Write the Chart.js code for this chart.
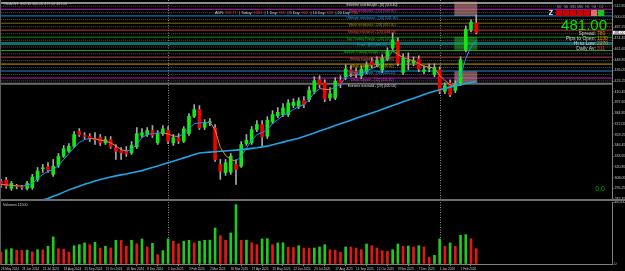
<!DOCTYPE html>
<html>
<head>
<meta charset="utf-8">
<script src="https://cdn.jsdelivr.net/npm/chart.js@4.4.1/dist/chart.umd.min.js"></script>
<style>
  html, body { margin: 0; padding: 0; background: #000; }
  #wrap { position: relative; width: 625px; height: 271px; background: #000; overflow: hidden; }
  #priceChart { position: absolute; left: 0; top: 0; }
  #volChart { position: absolute; left: 0; top: 201px; }
  .sep { position: absolute; left: 0; top: 199px; width: 625px; height: 2px; background: #6e6e6e; }
  .lborder { position: absolute; left: 0; top: 0; width: 1px; height: 265px; background: #5a5a5a; }
</style>
</head>
<body>
<div id="wrap">
  <canvas id="priceChart" width="625" height="199" style="width:625px;height:199px"></canvas>
  <div class="sep"></div>
  <canvas id="volChart" width="625" height="70" style="width:625px;height:70px"></canvas>
  <div class="lborder"></div>
</div>
<script>
// weekly bars, 26 May 2024 .. 22 Feb 2026
const opens = [303.4, 305.0, 295.1, 297.9, 296.5, 295.1, 295.9, 305.8, 318.5, 320.9,
  311.8, 322.5, 333.5, 339.5, 345.4, 362.9, 358.2, 357.3, 354.0, 356.1,
  349.5, 353.4, 343.5, 340.3, 339.5, 337.6, 344.7, 358.5, 359.4, 364.1,
  349.5, 360.2, 364.5, 349.5, 355.4, 351.4, 360.5, 381.1, 389.1, 368.0,
  373.6, 367.3, 323.7, 313.8, 314.5, 323.7, 321.6, 348.6, 349.5, 365.3,
  371.3, 357.3, 374.5, 382.0, 383.2, 383.2, 393.9, 393.0, 399.8, 401.0,
  410.9, 424.8, 420.9, 403.0, 403.0, 424.0, 428.0, 436.7, 434.7, 429.6,
  434.7, 446.6, 443.8, 436.7, 449.4, 462.5, 470.4, 433.5, 446.2, 444.7,
  449.4, 434.7, 438.4, 430.8, 436.7, 410.9, 420.9, 412.1, 420.9, 460.5,
  484.3, 492.3];
const highs = [305.8, 308.2, 303.4, 299.9, 298.7, 303.4, 311.8, 320.1, 323.7, 326.0,
  329.6, 336.7, 346.3, 348.6, 362.9, 366.5, 361.7, 360.5, 361.7, 359.4,
  357.0, 357.0, 347.5, 343.9, 345.1, 351.0, 367.7, 366.5, 367.7, 370.1,
  364.1, 370.1, 368.9, 359.4, 360.5, 368.9, 384.3, 395.1, 393.9, 377.2,
  378.4, 371.3, 329.6, 329.6, 336.7, 329.6, 351.0, 359.4, 368.9, 376.0,
  376.0, 380.8, 387.9, 391.5, 396.2, 401.0, 402.2, 403.4, 404.6, 416.5,
  428.4, 429.6, 424.8, 415.3, 427.2, 429.6, 442.7, 441.5, 439.1, 441.5,
  446.2, 451.0, 452.2, 454.6, 462.9, 480.7, 474.8, 455.7, 456.9, 452.2,
  453.4, 441.5, 443.8, 443.8, 440.3, 421.2, 424.8, 423.6, 452.2, 489.1,
  496.2, 502.2];
const lows = [296.3, 295.1, 292.7, 294.5, 293.9, 293.3, 293.9, 303.4, 314.1, 314.1,
  309.4, 320.1, 332.0, 337.9, 343.9, 357.0, 353.4, 351.0, 347.5, 346.3,
  347.5, 342.7, 329.6, 329.6, 333.2, 335.6, 342.7, 355.8, 357.0, 355.8,
  347.5, 358.2, 348.6, 346.3, 348.6, 349.8, 358.2, 379.6, 365.3, 365.3,
  370.1, 327.2, 305.8, 310.6, 311.8, 299.9, 320.1, 346.3, 347.5, 362.9,
  345.4, 354.6, 372.4, 379.6, 380.8, 380.8, 391.5, 390.3, 391.5, 398.6,
  408.1, 415.3, 398.6, 399.8, 401.0, 415.3, 424.8, 428.4, 427.2, 426.0,
  431.9, 439.1, 440.3, 433.1, 447.4, 460.5, 441.5, 430.8, 436.7, 441.5,
  434.3, 431.9, 434.3, 428.4, 408.1, 408.1, 404.6, 409.3, 417.7, 458.1,
  481.9, 479.5];
const closes = [298.7, 297.8, 301.0, 297.5, 296.3, 301.0, 308.5, 315.7, 318.9, 316.9,
  321.6, 333.5, 342.3, 345.4, 359.4, 359.0, 357.0, 354.2, 353.2, 349.5,
  353.4, 344.7, 339.5, 337.6, 336.7, 346.3, 360.5, 361.4, 364.1, 358.5,
  360.5, 366.1, 351.4, 355.4, 351.4, 366.1, 381.1, 389.1, 367.3, 373.3,
  374.5, 329.6, 315.7, 325.7, 333.5, 317.7, 347.5, 352.6, 365.3, 371.3,
  356.6, 376.4, 383.2, 385.9, 391.1, 397.1, 397.8, 399.8, 395.1, 412.1,
  423.6, 418.9, 401.8, 408.1, 422.8, 420.0, 437.5, 432.8, 431.9, 437.5,
  442.3, 442.7, 447.4, 450.6, 458.5, 472.4, 444.7, 450.6, 446.9, 447.4,
  437.5, 436.7, 439.1, 439.4, 410.9, 417.7, 406.9, 420.0, 448.6, 485.1,
  493.5, 481.0];
const fastMA = [299.9, 299.3, 298.7, 298.1, 297.8, 298.7, 301.0, 307.0, 311.8, 315.3,
  317.7, 322.5, 329.6, 336.7, 343.9, 349.8, 353.4, 354.6, 354.2, 352.8,
  351.6, 349.5, 345.7, 341.5, 339.5, 341.5, 347.5, 355.8, 359.4, 360.5,
  361.1, 361.7, 359.9, 357.6, 357.0, 360.5, 366.5, 372.4, 373.3, 373.5,
  374.2, 365.3, 343.9, 334.4, 329.6, 327.6, 333.2, 343.3, 352.2, 359.4,
  361.7, 365.3, 372.4, 377.2, 382.0, 385.5, 389.1, 392.7, 395.1, 401.0,
  409.3, 414.1, 413.5, 412.9, 416.0, 419.0, 428.0, 430.5, 430.0, 431.5,
  435.5, 438.0, 441.0, 444.5, 450.5, 459.5, 455.0, 451.5, 449.0, 447.5,
  444.0, 441.0, 440.0, 438.5, 430.0, 424.0, 418.5, 418.0, 430.0, 450.0,
  464.0, 472.0];
const slowMA = [264.2, 266.5, 268.9, 271.3, 273.7, 276.1, 277.8, 280.0, 281.5, 282.9,
  285.6, 287.9, 290.6, 293.3, 295.6, 297.7, 299.9, 301.9, 303.9, 305.8,
  307.2, 308.7, 310.0, 311.2, 312.3, 313.7, 315.0, 316.3, 318.2, 320.1,
  321.9, 323.8, 325.7, 327.6, 329.5, 331.5, 333.4, 335.4, 337.3, 337.9,
  338.4, 338.9, 339.4, 339.8, 340.3, 340.8, 341.3, 342.0, 342.8, 343.6,
  344.6, 345.5, 347.1, 348.6, 350.3, 351.9, 353.4, 354.9, 357.0, 359.1,
  361.3, 363.5, 365.7, 367.9, 370.1, 372.2, 374.3, 376.5, 378.7, 380.9,
  383.0, 385.2, 387.3, 389.6, 391.8, 394.0, 396.1, 398.4, 400.5, 402.7,
  404.9, 407.1, 409.2, 411.1, 412.9, 414.4, 416.0, 417.5, 418.9, 420.2,
  421.5, 422.8];
const volumes = [8800, 10700, 11500, 10300, 10200, 10400, 9200, 10700, 10600, 13300,
  20300, 11500, 11200, 8800, 13700, 14500, 15800, 14500, 16300, 12000,
  13300, 12000, 17800, 17700, 13300, 17800, 15200, 18800, 12800, 15500,
  7000, 10000, 18800, 17000, 15200, 17000, 17800, 15800, 17000, 17800,
  17900, 27000, 21200, 17800, 23300, 44500, 17800, 17900, 15800, 14500,
  18800, 19000, 14500, 15800, 15900, 12500, 12400, 13700, 12000, 11900,
  12000, 12800, 14500, 10700, 10300, 8800, 12800, 12700, 12000, 10700,
  15000, 13700, 12000, 10000, 9500, 10700, 15000, 13300, 13500, 12800,
  13700, 12800, 5000, 6500, 18800, 13300, 15800, 13300, 21500, 22000,
  19000, 11500];

const dateTickIdx = [0, 4, 8, 12, 16, 20, 24, 28, 32, 36, 40, 44, 48, 52, 56, 60, 64, 68, 72, 76, 80, 84, 88];
const dateTickText = ['26 May 2024', '23 Jun 2024', '21 Jul 2024', '18 Aug 2024', '15 Sep 2024', '13 Oct 2024',
  '10 Nov 2024', '8 Dec 2024', '5 Jan 2025', '2 Feb 2025', '2 Mar 2025', '30 Mar 2025', '27 Apr 2025',
  '25 May 2025', '22 Jun 2025', '20 Jul 2025', '17 Aug 2025', '14 Sep 2025', '12 Oct 2025', '9 Nov 2025',
  '7 Dec 2025', '4 Jan 2026', '1 Feb 2026'];
const yearStartIdx = [32, 84];
const priceTicks = [512.85, 500.05, 487.25, 474.45, 461.65, 448.85, 436.05, 423.25, 410.45, 397.65,
  384.85, 372.05, 359.25, 346.45, 333.65, 320.85, 308.05, 295.25, 282.45];

// support / resistance levels
const levelPrices = [516.4, 508.9, 501.0, 492.3, 484.0, 475.6, 468.2, 459.7, 451.8, 443.5, 435.2, 426.8, 420.0];
const levelNames = ['Extreme overbought', 'Weak resistance', 'Ultimate resistance', 'Weak resistance', 'Strong resistance',
  'Top Trading Range', 'Pivot', 'Bottom Trading Range', 'Strong support', 'Weak support', 'Ultimate support',
  'Weak support', 'Extreme oversold'];
const levelTouches = [8, 15, 16, 28, 26, 18, 46, 45, 22, 13, 18, 12, 29];
const levelColors = ['#8c8c8c', '#b41eb4', '#1a8cd8', '#7d6a12', '#c0402c', '#129012', '#0d6e6e', '#18a018',
  '#b44646', '#c8a000', '#1a8cd8', '#b41eb4', '#6a6a6a'];
const levelTextColors = ['#d8d8d8', '#d040d0', '#3aa0e8', '#a09020', '#e04a30', '#20b020', '#20a8a8', '#20c020',
  '#e06060', '#e0b000', '#3aa0e8', '#d040d0', '#d8d8d8'];
const levelWidths = [2, 1, 1, 1, 1, 1, 3, 1, 1, 1, 1, 1, 2];

// zones at the right edge
const zoneStart = [87, 87, 87];
const zoneEnd = [91, 91, 91];
const zoneHigh = [518.0, 476.0, 434.7];
const zoneLow = [501.0, 460.5, 420.9];
const zoneColors = ['rgba(215,150,150,0.55)', 'rgba(40,170,40,0.55)', 'rgba(215,150,150,0.55)'];

const adrLabels = ['ADR:', '| Today:', '| 1 Day:', '| 5 Day:', '| 10 Day:', '| 20 Day:'];
const adrValues = ['252.71', '1083', '965', '862', '633', '780'];
const tfNames = ['M1', 'M5', 'M15', 'M30', 'H1', 'H4', 'D1'];
const tfTrend = [-1, -1, -1, -1, -1, 0, 1];
const infoLabels = ['Spread:', 'Pips to Open:', 'Hi to Low:', 'Daily Av:'];
const infoValues = ['780', '1130', '2270', '311'];
const infoColors = ['#ff8c00', '#ff8c00', '#ff8c00', '#ff3030'];

const X_MIN = -0.19, X_MAX = 117.0;
const Y_MIN = 282.4, Y_MAX = 520.0;
const VOL_MAX = 46500;
const FONT = '"Liberation Sans", Arial, sans-serif';
const last = closes.length - 1;
const idx = closes.map((_, i) => i);

const yearLines = {
  id: 'yearLines',
  beforeDatasetsDraw(chart) {
    const { ctx, chartArea } = chart;
    const xs = chart.scales.x;
    ctx.save();
    ctx.strokeStyle = '#8a8a8a';
    ctx.lineWidth = 1;
    ctx.setLineDash([1, 1.5]);
    yearStartIdx.forEach(i => {
      const x = Math.round(xs.getPixelForValue(i)) + 0.5;
      ctx.beginPath();
      ctx.moveTo(x, chartArea.top);
      ctx.lineTo(x, chartArea.bottom);
      ctx.stroke();
    });
    ctx.restore();
  }
};

const overlay = {
  id: 'overlay',
  beforeDatasetDraw(chart, args) {
    if (chart.data.datasets[args.index].id !== 'wicks') return;
    const { ctx } = chart;
    const xs = chart.scales.x, ys = chart.scales.y;
    ctx.save();
    zoneStart.forEach((s, k) => {
      const x0 = xs.getPixelForValue(s) - 1;
      const x1 = xs.getPixelForValue(zoneEnd[k]) + 1;
      const y0 = ys.getPixelForValue(zoneHigh[k]);
      const y1 = ys.getPixelForValue(zoneLow[k]);
      ctx.fillStyle = zoneColors[k];
      ctx.fillRect(x0, y0, x1 - x0, y1 - y0);
    });
    ctx.restore();
  },
  afterDatasetsDraw(chart) {
    const { ctx } = chart;
    const ys = chart.scales.y;
    ctx.save();
    // title
    ctx.font = '3.6px ' + FONT;
    ctx.textBaseline = 'middle';
    ctx.textAlign = 'left';
    ctx.fillStyle = '#bfbfbf';
    ctx.fillText('TSLA,W1  ' + opens[last].toFixed(2) + ' ' + highs[last].toFixed(2) + ' ' +
      lows[last].toFixed(2) + ' ' + closes[last].toFixed(2), 3, 3.5);

    // level labels
    ctx.font = '3.4px ' + FONT;
    ctx.textAlign = 'center';
    levelPrices.forEach((p, k) => {
      const y = ys.getPixelForValue(p) + 2;
      ctx.fillStyle = levelTextColors[k];
      ctx.fillText(levelNames[k] + ' - [' + levelTouches[k] + '] (' + p.toFixed(2) + ')', 372, y);
    });

    // ADR row
    ctx.font = '3.8px ' + FONT;
    ctx.textAlign = 'left';
    let ax = 215;
    adrLabels.forEach((lab, k) => {
      ctx.fillStyle = '#cfcfcf';
      ctx.fillText(lab + ' ', ax, 13);
      ax += ctx.measureText(lab + ' ').width;
      ctx.fillStyle = '#ff2a2a';
      ctx.fillText(adrValues[k] + ' ', ax, 13);
      ax += ctx.measureText(adrValues[k] + ' ').width + 1.5;
    });

    // timeframe boxes
    ctx.font = 'bold 7px ' + FONT;
    ctx.fillStyle = '#f0f0f0';
    ctx.textAlign = 'right';
    ctx.fillText('Z', 553, 13.5);
    ctx.font = '2.8px ' + FONT;
    ctx.textAlign = 'center';
    tfNames.forEach((n, k) => {
      const bx = 556 + k * 7;
      ctx.fillStyle = tfTrend[k] > 0 ? '#22c022' : (tfTrend[k] < 0 ? '#cc0000' : '#e07070');
      ctx.fillRect(bx, 10, 6.3, 6);
      ctx.fillStyle = '#a0a0a0';
      ctx.fillText(n, bx + 3.2, 7.6);
    });

    // big price
    ctx.font = '15px ' + FONT;
    ctx.textAlign = 'right';
    ctx.textBaseline = 'alphabetic';
    ctx.fillStyle = '#00e600';
    ctx.fillText(closes[last].toFixed(2), 607, 30);

    // info rows
    ctx.font = '5px ' + FONT;
    ctx.textBaseline = 'middle';
    infoLabels.forEach((lab, k) => {
      const y = 33.5 + k * 5;
      ctx.textAlign = 'right';
      ctx.fillStyle = '#d0d0d0';
      ctx.fillText(lab, 596, y);
      ctx.textAlign = 'left';
      ctx.fillStyle = infoColors[k];
      ctx.fillText(infoValues[k], 597, y);
    });

    ctx.font = '7px ' + FONT;
    ctx.textAlign = 'right';
    ctx.fillStyle = '#00b400';
    ctx.fillText('0.0', 605, 189);
    ctx.restore();
  },
  afterDraw(chart) {
    const { ctx } = chart;
    const ys = chart.scales.y;
    const y = ys.getPixelForValue(closes[last]);
    ctx.save();
    ctx.fillStyle = '#ffffff';
    ctx.fillRect(613, y - 1.8, 12, 3.6);
    ctx.fillStyle = '#000';
    ctx.font = '3.4px ' + FONT;
    ctx.textBaseline = 'middle';
    ctx.textAlign = 'left';
    ctx.fillText(closes[last].toFixed(2), 614, y);
    ctx.restore();
  }
};

const datasets = [];
levelPrices.forEach((p, k) => {
  if (k < levelPrices.length - 1) {
    const mid = (p + levelPrices[k + 1]) / 2;
    datasets.push({
      type: 'line', data: [{ x: X_MIN - 1, y: mid }, { x: X_MAX + 1, y: mid }],
      borderColor: '#555555', borderWidth: 1, borderDash: [1, 1], pointRadius: 0, order: 12
    });
  }
  datasets.push({
    type: 'line', data: [{ x: X_MIN - 1, y: p }, { x: X_MAX + 1, y: p }],
    borderColor: levelColors[k], borderWidth: levelWidths[k], pointRadius: 0, order: 11
  });
});
datasets.push({
  id: 'wicks', type: 'bar', grouped: false, order: 1,
  data: idx.map(i => ({ x: i, y: [lows[i], highs[i]] })),
  backgroundColor: '#a8a8a8', barThickness: 1, borderWidth: 0
});
datasets.push({
  type: 'bar', grouped: false, order: 0, minBarLength: 1,
  data: idx.map(i => ({ x: i, y: [opens[i], closes[i]] })),
  backgroundColor: idx.map(i => closes[i] >= opens[i] ? '#12e812' : '#f00000'),
  barThickness: 3, borderWidth: 0
});
datasets.push({
  type: 'line', order: -1, pointRadius: 0, borderWidth: 1.6,
  data: idx.map(i => ({ x: i, y: slowMA[i] })),
  borderColor: '#1ea6e6'
});
datasets.push({
  type: 'line', order: -2, pointRadius: 0, borderWidth: 1,
  data: idx.map(i => ({ x: i, y: fastMA[i] })),
  borderColor: '#1e90ff',
  segment: { borderColor: c => c.p1.parsed.y < c.p0.parsed.y ? '#e0844a' : '#1e90ff' }
});

new Chart(document.getElementById('priceChart'), {
  type: 'bar',
  data: { datasets },
  options: {
    responsive: false, animation: false, events: [],
    layout: { padding: 0 },
    plugins: { legend: { display: false }, tooltip: { enabled: false } },
    scales: {
      x: { type: 'linear', min: X_MIN, max: X_MAX, offset: false, display: false },
      y: {
        type: 'linear', position: 'right', min: Y_MIN, max: Y_MAX,
        afterBuildTicks: s => { s.ticks = priceTicks.map(v => ({ value: v })); },
        afterFit: s => { s.width = 13; s.paddingTop = 0; s.paddingBottom = 0; },
        ticks: { color: '#c8c8c8', font: { size: 3.6, family: FONT }, padding: 1, callback: v => v.toFixed(2) },
        grid: { drawOnChartArea: false, drawTicks: true, tickLength: 1.5, color: '#808080' },
        border: { display: true, color: '#808080', width: 1 }
      }
    }
  },
  plugins: [yearLines, overlay]
});

const volLabel = {
  id: 'volLabel',
  afterDatasetsDraw(chart) {
    const { ctx } = chart;
    ctx.save();
    ctx.font = '3.6px ' + FONT;
    ctx.fillStyle = '#c8c8c8';
    ctx.textBaseline = 'middle';
    ctx.fillText('Volumes ' + volumes[last], 3, 4);
    ctx.restore();
  }
};

new Chart(document.getElementById('volChart'), {
  type: 'bar',
  data: {
    datasets: [{
      data: idx.map(i => ({ x: i, y: volumes[i] })),
      backgroundColor: idx.map(i => (i > 0 && volumes[i] > volumes[i - 1]) ? '#22c822' : '#e01818'),
      barThickness: 2, borderWidth: 0
    }]
  },
  options: {
    responsive: false, animation: false, events: [],
    layout: { padding: { top: 1, left: 0, right: 0, bottom: 0 } },
    plugins: { legend: { display: false }, tooltip: { enabled: false } },
    scales: {
      x: {
        type: 'linear', min: X_MIN, max: X_MAX, offset: false,
        afterBuildTicks: s => { s.ticks = dateTickIdx.map(v => ({ value: v })); },
        afterFit: s => { s.height = 7; s.paddingLeft = 0; s.paddingRight = 0; },
        ticks: {
          autoSkip: false, maxRotation: 0, minRotation: 0, align: 'start', padding: 1,
          color: '#c8c8c8', font: { size: 3.1, family: FONT },
          callback: (v, i) => dateTickText[i]
        },
        grid: { drawOnChartArea: false, drawTicks: true, tickLength: 2, color: '#808080' },
        border: { display: true, color: '#808080', width: 1 }
      },
      y: {
        type: 'linear', position: 'right', min: 0, max: VOL_MAX,
        afterBuildTicks: s => { s.ticks = [{ value: 0 }, { value: VOL_MAX }]; },
        afterFit: s => { s.width = 13; s.paddingTop = 0; s.paddingBottom = 0; },
        ticks: { color: '#c8c8c8', font: { size: 3.6, family: FONT }, padding: 1 },
        grid: { drawOnChartArea: false, drawTicks: true, tickLength: 1.5, color: '#808080' },
        border: { display: true, color: '#808080', width: 1 }
      }
    }
  },
  plugins: [yearLines, volLabel]
});
</script>
</body>
</html>
